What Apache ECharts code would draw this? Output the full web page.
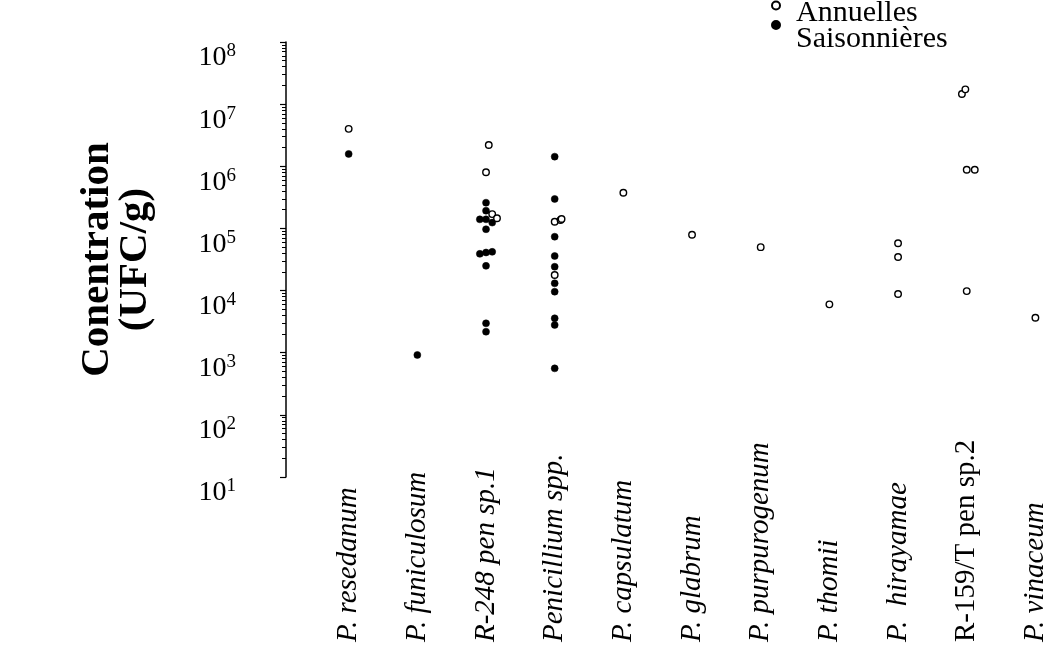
<!DOCTYPE html>
<html>
<head>
<meta charset="utf-8">
<script src="https://cdn.jsdelivr.net/npm/echarts@6/dist/echarts.min.js"></script>
<style>
  html, body { margin: 0; padding: 0; background: #fff; }
  #chart { width: 1053px; height: 650px; }
</style>
</head>
<body>
<div id="chart"></div>
<script>
// Species / isolates along the horizontal axis
const categories = [
  'P. resedanum', 'P. funiculosum', 'R-248 pen sp.1', 'Penicillium spp.',
  'P. capsulatum', 'P. glabrum', 'P. purpurogenum', 'P. thomii',
  'P.  hirayamae', 'R-159/T pen sp.2', 'P. vinaceum'
];
// Labels printed upright (not italic)
const uprightLabels = ['R-159/T pen sp.2'];

// Decade tick values of the concentration axis
const yTicks = [1e1, 1e2, 1e3, 1e4, 1e5, 1e6, 1e7, 1e8];

// Annual samples: [category index (+ small spread), UFC/g]
const annuelles = [
  [0, 4.0e6],
  [2.04, 2.2e6], [2, 8.0e5], [2.09, 1.7e5], [2.16, 1.46e5],
  [3, 1.28e5], [3.085, 1.37e5], [3.1, 1.42e5], [3, 1.78e4],
  [4, 3.76e5],
  [5, 7.9e4],
  [6, 5.0e4],
  [7, 6.0e3],
  [8, 5.77e4], [8, 3.47e4], [8, 8.8e3],
  [8.93, 1.46e7], [8.98, 1.73e7], [9, 8.8e5], [9.117, 8.8e5], [9, 9.8e3],
  [10, 3.66e3]
];

// Seasonal samples: [category index (+ small spread), UFC/g]
const saisonnieres = [
  [0, 1.58e6],
  [1, 9.2e2],
  [2, 2.6e5], [2, 1.93e5], [1.91, 1.4e5], [2, 1.4e5], [2.09, 1.24e5],
  [2, 9.7e4], [1.91, 3.9e4], [2, 4.1e4], [2.09, 4.2e4], [2, 2.5e4],
  [2, 2.97e3], [2, 2.18e3],
  [3, 1.43e6], [3, 2.98e5], [3, 7.36e4], [3, 3.6e4], [3, 2.42e4],
  [3, 1.31e4], [3, 9.6e3], [3, 3.58e3], [3, 2.8e3], [3, 5.6e2]
];

const serif = '"Liberation Serif", "DejaVu Serif", serif';

// One legend entry. The label is written on the second of two lines so it
// sits lower than its marker; lineHeight sets how far it drops.
function legendEntry(name, top, lineHeight) {
  return {
    data: [name],
    orient: 'vertical',
    left: 771,
    top: top,
    padding: 0,
    itemWidth: 8,
    itemHeight: 8,
    formatter: n => '\n' + n,
    textStyle: {
      fontFamily: serif, fontSize: 30, lineHeight: lineHeight, color: '#000',
      padding: [0, 0, 0, 11]
    }
  };
}

const chart = echarts.init(document.getElementById('chart'), null, { renderer: 'canvas' });

chart.setOption({
  backgroundColor: '#ffffff',
  animation: false,
  // x runs from -1 to 10 so that each category sits on an integer position
  grid: { left: 280, right: 17.6, top: 42, bottom: 173, containLabel: false },
  legend: [
    legendEntry('Annuelles', -17.5, 16),
    legendEntry('Saisonnières', -4.5, 29)
  ],
  xAxis: {
    type: 'value',
    min: -1,
    max: categories.length - 1,
    interval: 1,
    splitLine: { show: false },
    axisLine: { show: false },
    axisTick: { show: false },
    axisLabel: {
      showMinLabel: false,
      rotate: 90,
      align: 'left',
      margin: 165,
      color: '#000',
      formatter: v => {
        const name = categories[v];
        if (!name) return '';
        return uprightLabels.includes(name) ? '{n|' + name + '}' : '{i|' + name + '}';
      },
      rich: {
        i: { fontFamily: serif, fontStyle: 'italic', fontSize: 29, color: '#000' },
        n: { fontFamily: serif, fontSize: 29, color: '#000' }
      }
    }
  },
  yAxis: {
    type: 'log',
    logBase: 10,
    min: yTicks[0],
    max: yTicks[yTicks.length - 1],
    offset: -6,
    name: 'Conentration\n(UFC/g)',
    nameLocation: 'middle',
    nameRotate: 90,
    nameGap: 132,
    nameTextStyle: { fontFamily: serif, fontWeight: 'bold', fontSize: 41, color: '#000', lineHeight: 38 },
    axisLine: { show: true, onZero: false, lineStyle: { color: '#000', width: 1.5 } },
    axisTick: { show: true, length: 6, lineStyle: { color: '#000', width: 1.2 } },
    minorTick: { show: true, splitNumber: 9, length: 4, lineStyle: { color: '#000', width: 1 } },
    splitLine: { show: false },
    axisLabel: {
      margin: 50,
      verticalAlign: 'top',
      formatter: v => '10{s|' + Math.round(Math.log10(v)) + '}',
      rich: {
        s: { fontFamily: serif, fontSize: 19, color: '#000', padding: [0, 0, 13, 0] }
      },
      fontFamily: serif,
      fontSize: 28,
      color: '#000'
    }
  },
  series: [
    {
      name: 'Saisonnières',
      type: 'scatter',
      data: saisonnieres,
      symbol: 'circle',
      symbolSize: 7,
      itemStyle: { color: '#000', borderColor: '#000', borderWidth: 0.5, opacity: 1 }
    },
    {
      name: 'Annuelles',
      type: 'scatter',
      data: annuelles,
      symbol: 'circle',
      symbolSize: 6.5,
      itemStyle: { color: '#fff', borderColor: '#000', borderWidth: 1.4, opacity: 1 }
    }
  ]
});
</script>
</body>
</html>
